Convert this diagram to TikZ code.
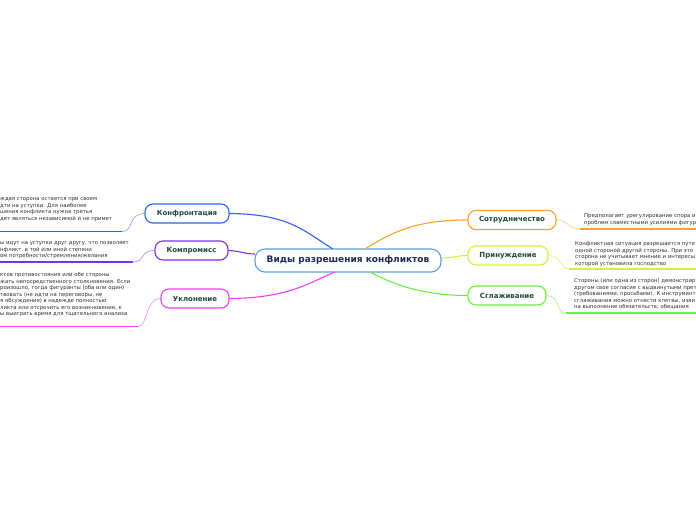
\documentclass[tikz,border=0pt]{standalone}
\usepackage{fontspec}
\setmainfont{DejaVu Sans}
\definecolor{cblue}{HTML}{2D63F5}
\definecolor{cpurple}{HTML}{7A2FF2}
\definecolor{cmag}{HTML}{F040F0}
\definecolor{corange}{HTML}{FFA22A}
\definecolor{cyellow}{HTML}{D6F03A}
\definecolor{cgreen}{HTML}{6EEE3C}
\definecolor{croot}{HTML}{5DA2DA}
\definecolor{lbl}{HTML}{1D4A3A}
\definecolor{rootlbl}{HTML}{1E2B55}
\definecolor{notetxt}{HTML}{2E2E2E}
\begin{document}
\begin{tikzpicture}[x=1pt,y=-1pt,
  branch/.style={draw, line width=1.1pt, rounded corners=8pt, fill=white, text=lbl,
    font=\bfseries\fontsize{7}{8}\selectfont, minimum height=19pt, inner sep=2pt},
  rootbox/.style={draw=croot, line width=1.1pt, rounded corners=10pt, fill=white, text=rootlbl,
    font=\bfseries\fontsize{9}{10}\selectfont, minimum height=23pt, minimum width=186pt, inner sep=2pt},
  note/.style={anchor=north west, inner sep=0pt, align=left, text=notetxt,
    font=\fontsize{5.35}{6.5}\selectfont},
  link/.style={line width=1.1pt},
  sublink/.style={line width=0.7pt},
  uline/.style={line width=1.8pt}]
\useasboundingbox (0,0) rectangle (696,520);
\clip (0,0) rectangle (696,520);

\coordinate (rA) at (333,249);
\coordinate (rB) at (365,249);
\coordinate (rC) at (335,272);
\coordinate (rD) at (370,272);
\coordinate (rE) at (255,254);
\coordinate (rF) at (441,258);

\node[rootbox] (root) at (348,260.5) {Виды разрешения конфликтов};

\node[branch, draw=cblue, minimum width=84pt] (konf) at (187,213.5) {Конфронтация};
\node[branch, draw=cpurple, minimum width=73pt] (komp) at (191.5,250.5) {Компромисс};
\node[branch, draw=cmag, minimum width=68pt] (ukl) at (195,298.5) {Уклонение};
\node[branch, draw=corange, minimum width=88pt] (sotr) at (512,220) {Сотрудничество};
\node[branch, draw=cyellow, minimum width=80pt] (prin) at (508,255.5) {Принуждение};
\node[branch, draw=cgreen, minimum width=78pt] (sgl) at (507,295.5) {Сглаживание};

\draw[link, cblue] (konf.east) .. controls (290,214) and (305,232) .. (rA);
\draw[link, cpurple] (komp.east) .. controls (240,251) and (245,254) .. (rE);
\draw[link, cmag] (ukl.east) .. controls (290,298) and (310,282) .. (rC);
\draw[link, corange] (rB) .. controls (395,230) and (420,220) .. (sotr.west);
\draw[link, cyellow] (rF) .. controls (452,258) and (458,255.5) .. (prin.west);
\draw[link, cgreen] (rD) .. controls (400,288) and (430,295.5) .. (sgl.west);

\coordinate (kU) at (122,231.5); \coordinate (kE) at (-5,231.5);
\coordinate (mU) at (133,262); \coordinate (mE) at (-5,262);
\coordinate (uU) at (138,326.5); \coordinate (uE) at (-5,326.5);
\coordinate (sU) at (580,229); \coordinate (sE) at (701,229);
\coordinate (pU) at (569,269); \coordinate (pE) at (701,269);
\coordinate (gU) at (566,313); \coordinate (gE) at (701,313);

\draw[sublink, cblue!55] (konf.west) .. controls (128,213.5) and (134,231.5) .. (kU);
\draw[uline, cblue] (kU) -- (kE);
\draw[sublink, cpurple!55] (komp.west) .. controls (140,250.5) and (145,262) .. (mU);
\draw[uline, cpurple] (mU) -- (mE);
\draw[sublink, cmag!55] (ukl.west) .. controls (145,298.5) and (148,326.5) .. (uU);
\draw[uline, cmag] (uU) -- (uE);
\draw[sublink, corange!55] (sotr.east) .. controls (568,220) and (568,229) .. (sU);
\draw[uline, corange] (sU) -- (sE);
\draw[sublink, cyellow!70] (prin.east) .. controls (562,255.5) and (560,269) .. (pU);
\draw[uline, cyellow] (pU) -- (pE);
\draw[sublink, cgreen!60] (sgl.east) .. controls (560,295.5) and (556,313) .. (gU);
\draw[uline, cgreen] (gU) -- (gE);

\node[note] (nkonf) at (0,197.6) {ждая сторона остается при своем\\дти на уступки. Для наиболее\\шения конфликта нужна третья\\дет являться независимой и не примет};
\node[note] (nkomp) at (0,241.6) {ы идут на уступки друг другу, что позволяет\\нфликт, в той или иной степени\\ом потребности/стремления/желания};
\node[note] (nukl) at (0,272.6) {ктов противостояния или обе стороны\\жать непосредственного столкновения. Если\\роизошло, тогда фигуранты (оба или один)\\твовать (не идти на переговоры, не\\я обсуждения) в надежде полностью\\ликта или отсрочить его возникновение, к\\ы выиграть время для тщательного анализа};
\node[note] (nsotr) at (584,213.6) {Предполагает урегулирование спора и\\проблем совместными усилиями фигур};
\node[note] (nprin) at (575,241.6) {Конфликтная ситуация разрешается путе\\одной стороной другой стороны. При это\\сторона не учитывает мнение и интересы\\которой установила господство};
\node[note] (nsgl) at (574,278.6) {Стороны (или одна из сторон) демонстрир\\другом свое согласие с выдвинутыми прет\\(требованиями, просьбами). К инструмент\\сглаживания можно отнести клятвы, изви\\на выполнение обязательств, обещания};
\end{tikzpicture}
\end{document}
